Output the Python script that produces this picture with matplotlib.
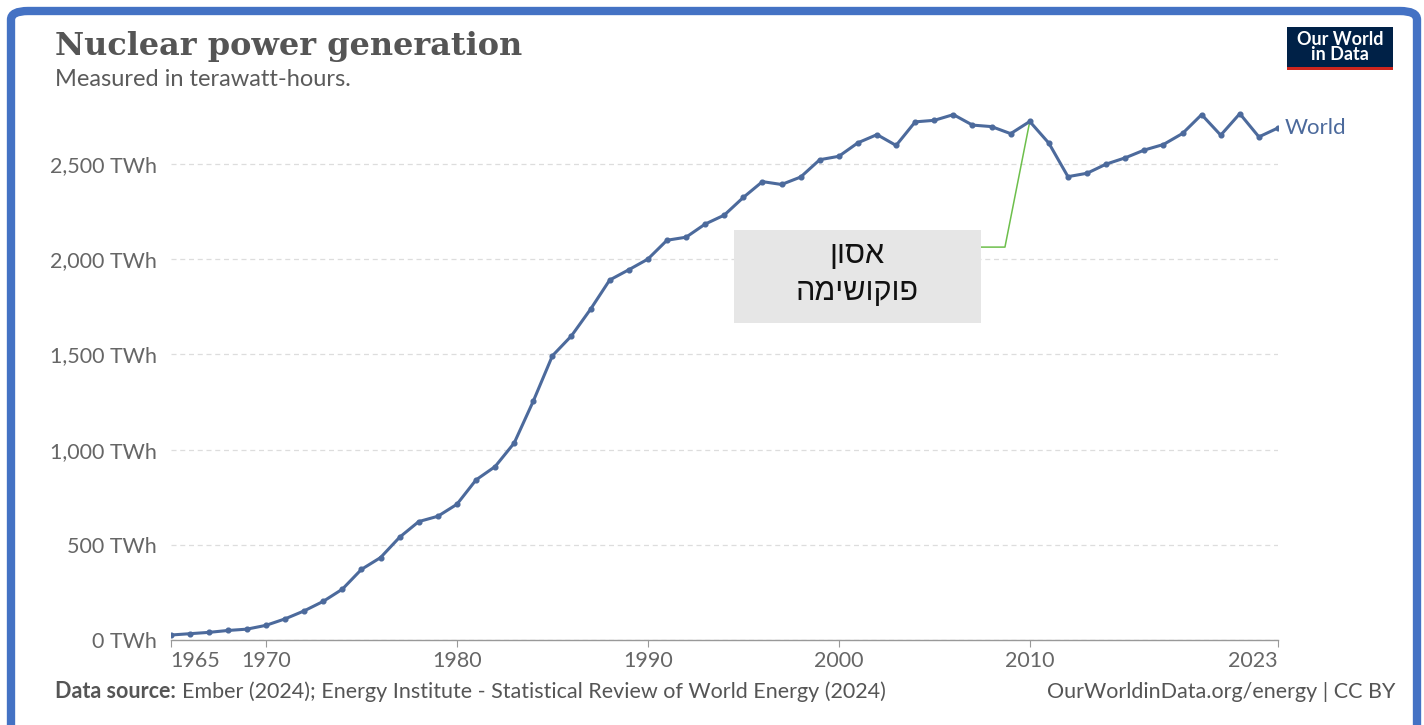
import matplotlib
matplotlib.use("Agg")
import matplotlib.pyplot as plt
from matplotlib.patches import FancyBboxPatch, Rectangle

years = list(range(1965, 2024))
world_twh = [26, 33, 40, 50, 57, 77, 111, 153, 203, 267,
             371, 433, 540, 622, 650, 713, 841, 911, 1035, 1255,
             1493, 1598, 1738, 1891, 1945, 2001, 2100, 2116, 2185, 2232,
             2325, 2408, 2393, 2432, 2523, 2541, 2612, 2655, 2598, 2722,
             2730, 2760, 2705, 2697, 2660, 2724, 2610, 2434, 2452, 2500,
             2533, 2574, 2603, 2661, 2760, 2652, 2765, 2643, 2690]
x_ticks = [1965, 1970, 1980, 1990, 2000, 2010, 2023]
y_ticks = [0, 500, 1000, 1500, 2000, 2500]
y_labels = ["0 TWh", "500 TWh", "1,000 TWh", "1,500 TWh", "2,000 TWh", "2,500 TWh"]
note_lines = ["אסון", "פוקושימה"]
note_year = 2010

LINE = "#4C6A9C"
GREY = "#5b5b5b"
SANS = ["Lato", "DejaVu Sans"]

W, H = 1424, 725
fig = plt.figure(figsize=(W / 100, H / 100), dpi=100)
fig.patch.set_facecolor("white")

# blue frame
frame = FancyBboxPatch((11 / W, -0.05), (1417 - 11) / W, (H - 11) / H + 0.05,
                       boxstyle="round,pad=0,rounding_size=0.012",
                       transform=fig.transFigure, facecolor="none",
                       edgecolor="#4472C4", linewidth=6, zorder=10)
fig.patches.append(frame)

ax = fig.add_axes([170.5 / W, (H - 640) / H, (1278 - 170.5) / W, 533 / H])
ax.plot(years, world_twh, color=LINE, lw=2.2, marker="o", ms=3.4, zorder=3)
ax.set_xlim(1965, 2023)
ax.set_ylim(0, 2800)

ax.set_yticks(y_ticks)
ax.set_yticklabels(y_labels)
ax.set_xticks(x_ticks)
ax.set_xticklabels([str(t) for t in x_ticks])
for lab in ax.get_xticklabels() + ax.get_yticklabels():
    lab.set_family(SANS)
    lab.set_fontsize(15.5)
    lab.set_color("#666666")
xl = ax.get_xticklabels()
xl[0].set_ha("left")
xl[-1].set_ha("right")
ax.tick_params(axis="y", length=0, pad=10)
ax.tick_params(axis="x", length=5, color="#999999", pad=3)
ax.grid(axis="y", color="#dddddd", linestyle=(0, (4, 3)), lw=0.9)
ax.grid(axis="x", visible=False)
for s in ["top", "right", "left"]:
    ax.spines[s].set_visible(False)
ax.spines["bottom"].set_color("#999999")
ax.spines["bottom"].set_linewidth(1.0)
ax.set_axisbelow(True)

# end label
ax.annotate("World", xy=(years[-1], world_twh[-1]), xytext=(5, 0),
            textcoords="offset points", va="center", ha="left",
            color=LINE, fontsize=16, family=SANS, annotation_clip=False)

# annotation box
bx0, bx1, by0, by1 = 1994.5, 2007.45, 1665, 2153
ax.add_patch(Rectangle((bx0, by0), bx1 - bx0, by1 - by0, facecolor="#e6e6e6",
                       edgecolor="none", zorder=4))
yi = years.index(note_year)
ax.plot([bx1, 2008.7, note_year], [2064, 2064, world_twh[yi]],
        color="#6dbf4b", lw=1.1, zorder=2)
cx = (bx0 + bx1) / 2
ax.text(cx, 2020, note_lines[0][::-1], ha="center", va="center", fontsize=22,
        family=["Liberation Sans", "DejaVu Sans"], color="#111111", zorder=5)
ax.text(cx, 1830, note_lines[1][::-1], ha="center", va="center", fontsize=22,
        family=["Liberation Sans", "DejaVu Sans"], color="#111111", zorder=5)

# titles
fig.text(55 / W, 1 - 46 / H, "Nuclear power generation", family=["DejaVu Serif"],
         weight="bold", fontsize=23, color="#555555", va="center", ha="left")
fig.text(55 / W, 1 - 79 / H, "Measured in terawatt-hours.", family=SANS,
         fontsize=17, color=GREY, va="center", ha="left")

# logo
lx0, lx1, ly0, ly1 = 1287, 1393, 27, 70
fig.patches.append(Rectangle((lx0 / W, 1 - ly1 / H), (lx1 - lx0) / W, (ly1 - ly0) / H,
                             transform=fig.transFigure, facecolor="#002147",
                             edgecolor="none"))
fig.patches.append(Rectangle((lx0 / W, 1 - ly1 / H), (lx1 - lx0) / W, 3 / H,
                             transform=fig.transFigure, facecolor="#ce261e",
                             edgecolor="none"))
fig.text((lx0 + lx1) / 2 / W, 1 - 47 / H, "Our World\nin Data", family=SANS,
         weight="bold", fontsize=13, color="white", ha="center", va="center",
         linespacing=0.85)

# footer
t1 = fig.text(55 / W, 1 - 692 / H, "Data source:", family=SANS, weight="bold",
              fontsize=15.5, color="#555555", va="center", ha="left")
fig.canvas.draw()
bb = t1.get_window_extent()
fig.text((bb.x1 + 6) / W, 1 - 692 / H,
         "Ember (2024); Energy Institute - Statistical Review of World Energy (2024)",
         family=SANS, fontsize=15.5, color="#555555", va="center", ha="left")
fig.text(1395 / W, 1 - 692 / H, "OurWorldinData.org/energy | CC BY", family=SANS,
         fontsize=15.5, color="#555555", va="center", ha="right")

fig.savefig("out.png", dpi=100, facecolor="white")
